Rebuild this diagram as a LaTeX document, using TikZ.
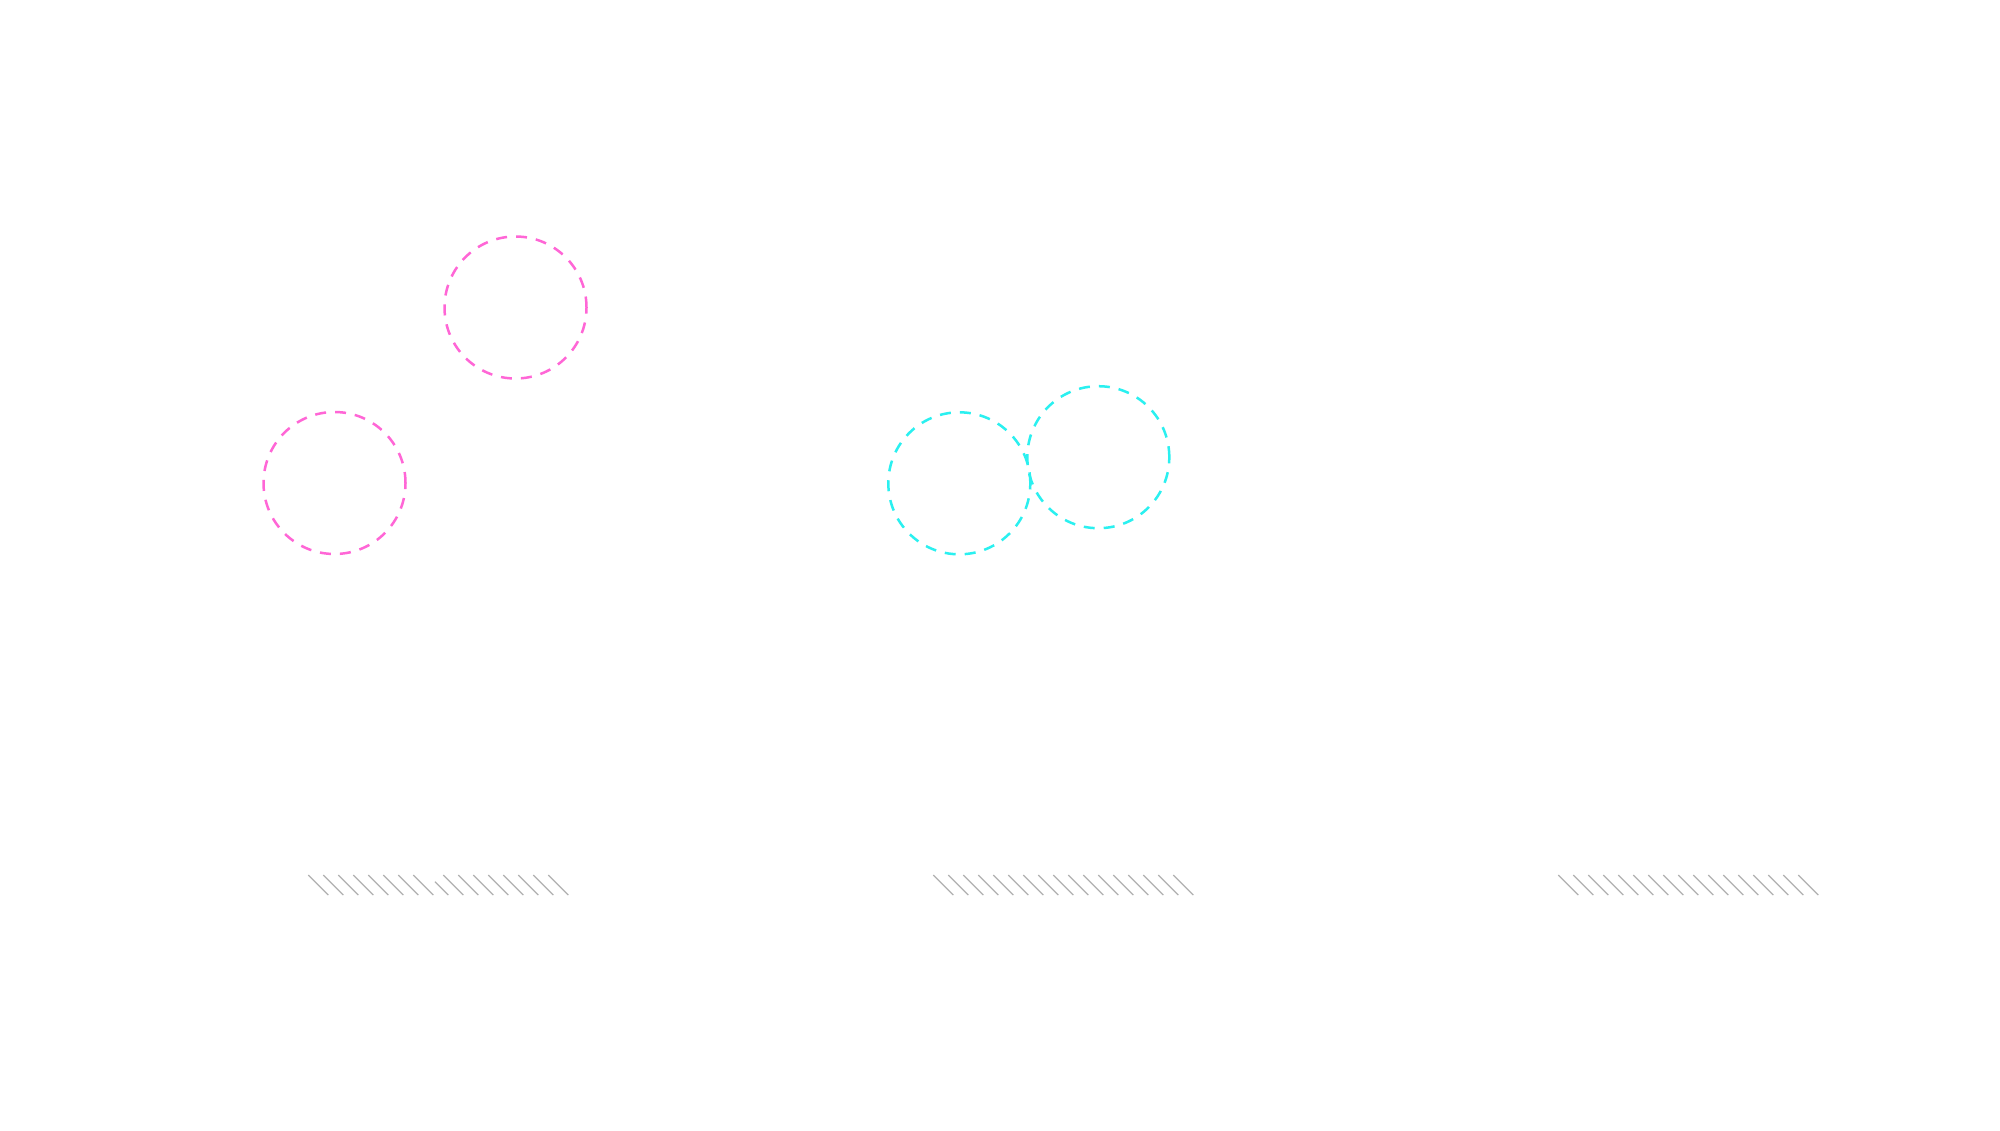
\documentclass[tikz,border=0pt]{standalone}
\begin{document}
\begin{tikzpicture}[x=0.5pt,y=-0.5pt,
  pinkring/.style={circle,draw=ringpink,line width=1.25pt,dash pattern=on 5.5pt off 4.5pt,minimum size=71pt,inner sep=0pt},
  cyanring/.style={circle,draw=ringcyan,line width=1.25pt,dash pattern=on 5.5pt off 4.5pt,minimum size=71pt,inner sep=0pt},
  hatchline/.style={draw=hatchgray,line width=0.65pt}]
\definecolor{ringpink}{HTML}{FF66D6}
\definecolor{ringcyan}{HTML}{2AF0F0}
\definecolor{hatchgray}{HTML}{B0B0B0}
\useasboundingbox[fill=white] (0,0) rectangle (2000,1130);
\node[pinkring] (p1) at (515.5,307.5) {};
\node[pinkring] (p2) at (334.5,483) {};
\node[cyanring] (c1) at (959.3,483.3) {};
\node[cyanring] (c2) at (1098.3,457.2) {};
% ground hatching
\foreach \gx in {308.3,933.3,1558.3}{
  \foreach \k in {0,...,16}{
    \pgfmathsetmacro{\xs}{\gx+15*\k}
    \ifnum\k=8
      \ifdim\gx pt<400pt
        \draw[hatchline] (\xs+6.7,881.7) -- (\xs+20,895);
      \else
        \draw[hatchline] (\xs,875) -- (\xs+20,895);
      \fi
    \else
      \draw[hatchline] (\xs,875) -- (\xs+20,895);
    \fi
  }
}
\end{tikzpicture}
\end{document}
